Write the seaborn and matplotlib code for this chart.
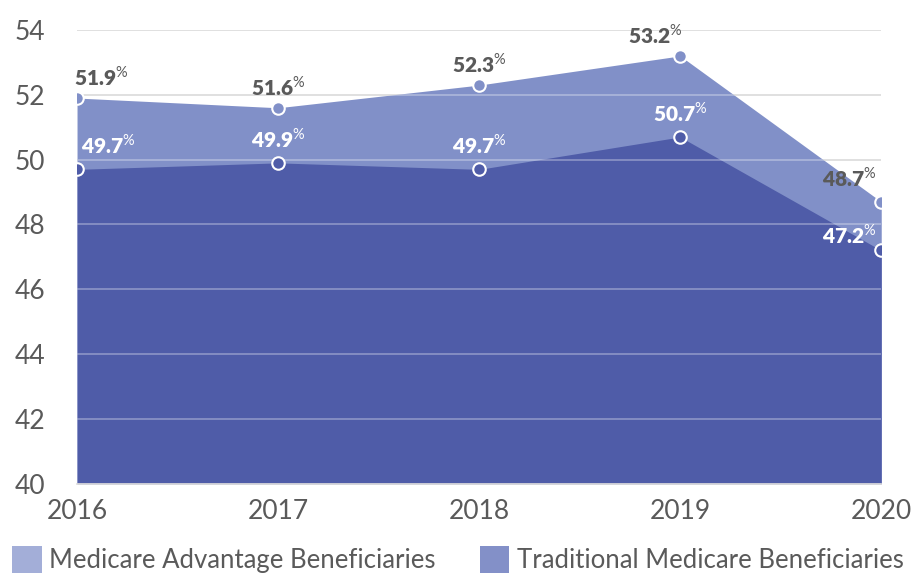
import matplotlib
matplotlib.use("Agg")
import matplotlib.pyplot as plt
from matplotlib.patches import Patch
import pandas as pd
import seaborn as sns

# ----------------------------------------------------
# Data
# ----------------------------------------------------
YEARS = [2016, 2017, 2018, 2019, 2020]
ADVANTAGE = [51.9, 51.6, 52.3, 53.2, 48.7]
TRADITIONAL = [49.7, 49.9, 49.7, 50.7, 47.2]
Y_TICKS = [40, 42, 44, 46, 48, 50, 52, 54]
LEGEND_LABELS = ["Medicare Advantage Beneficiaries", "Traditional Medicare Beneficiaries"]

# colours
UPPER_FILL = "#8190c8"
LOWER_FILL = "#4f5ca8"
LEGEND_COLORS = ["#a3aed8", "#8390c8"]
TEXT_GRAY = "#5a5a5a"

sns.set_theme(style="white")
plt.rcParams["font.family"] = ["Lato", "DejaVu Sans"]
plt.rcParams["mathtext.fontset"] = "custom"
plt.rcParams["mathtext.rm"] = "Lato"
plt.rcParams["mathtext.bf"] = "Lato:bold"

df = pd.DataFrame({"year": YEARS, "advantage": ADVANTAGE, "traditional": TRADITIONAL})

fig = plt.figure(figsize=(9.17, 5.76), dpi=100)
ax = fig.add_axes([0.084, 0.160, 0.877, 0.788])

base = Y_TICKS[0]
ax.fill_between(df["year"], base, df["advantage"], color=UPPER_FILL, lw=0, zorder=1)
ax.fill_between(df["year"], base, df["traditional"], color=LOWER_FILL, lw=0, zorder=2)

# grid: gray on white, light overlay on the fills
ax.set_yticks(Y_TICKS)
ax.yaxis.grid(True, color="#cccccc", lw=1.2, zorder=0)
ax.set_axisbelow(True)
ax.hlines(Y_TICKS[1:], YEARS[0], YEARS[-1], colors="white", alpha=0.35, lw=1.2, zorder=3)

sns.lineplot(data=df, x="year", y="advantage", ax=ax, lw=0, marker="o",
             markersize=9, markerfacecolor=UPPER_FILL, markeredgecolor="white",
             markeredgewidth=1.5, zorder=5)
sns.lineplot(data=df, x="year", y="traditional", ax=ax, lw=0, marker="o",
             markersize=9, markerfacecolor=LOWER_FILL, markeredgecolor="white",
             markeredgewidth=1.5, zorder=5)

# value labels (offsets in points)
upper_off = [(-2, 7, "left"), (0, 7, "center"), (0, 7, "center"), (-18, 7, "center"), (-3, 9, "right")]
lower_off = [(3, 9, "left"), (0, 9, "center"), (0, 9, "center"), (0, 9, "center"), (-3, 3, "right")]
for i, yr in enumerate(YEARS):
    dx, dy, ha = upper_off[i]
    ax.annotate(f"{ADVANTAGE[i]:.1f}" + r"$^{\%}$", (yr, ADVANTAGE[i]),
                xytext=(dx, dy), textcoords="offset points", ha=ha, va="bottom",
                fontsize=15, fontweight="heavy", color=TEXT_GRAY, zorder=6)
    dx, dy, ha = lower_off[i]
    ax.annotate(f"{TRADITIONAL[i]:.1f}" + r"$^{\%}$", (yr, TRADITIONAL[i]),
                xytext=(dx, dy), textcoords="offset points", ha=ha, va="bottom",
                fontsize=15, fontweight="heavy", color="white", zorder=6)

ax.set_xlim(YEARS[0], YEARS[-1])
ax.set_ylim(Y_TICKS[0], Y_TICKS[-1])
ax.set_xticks(YEARS)
ax.set_xlabel("")
ax.set_ylabel("")
ax.tick_params(axis="both", length=0, labelsize=19, labelcolor=TEXT_GRAY)
ax.tick_params(axis="y", pad=23)
ax.tick_params(axis="x", pad=11)
for s in ["top", "right", "left"]:
    ax.spines[s].set_visible(False)
ax.spines["bottom"].set_color("#dddddd")

handles = [Patch(facecolor=c, edgecolor="none") for c in LEGEND_COLORS]
leg = fig.legend(handles, LEGEND_LABELS, loc="lower left", bbox_to_anchor=(-0.012, -0.035),
                 ncol=2, frameon=False, fontsize=18.5, handlelength=1.15, handleheight=1.25,
                 handletextpad=0.3, columnspacing=1.7)
for t in leg.get_texts():
    t.set_color(TEXT_GRAY)

fig.savefig("out.png", dpi=100)
